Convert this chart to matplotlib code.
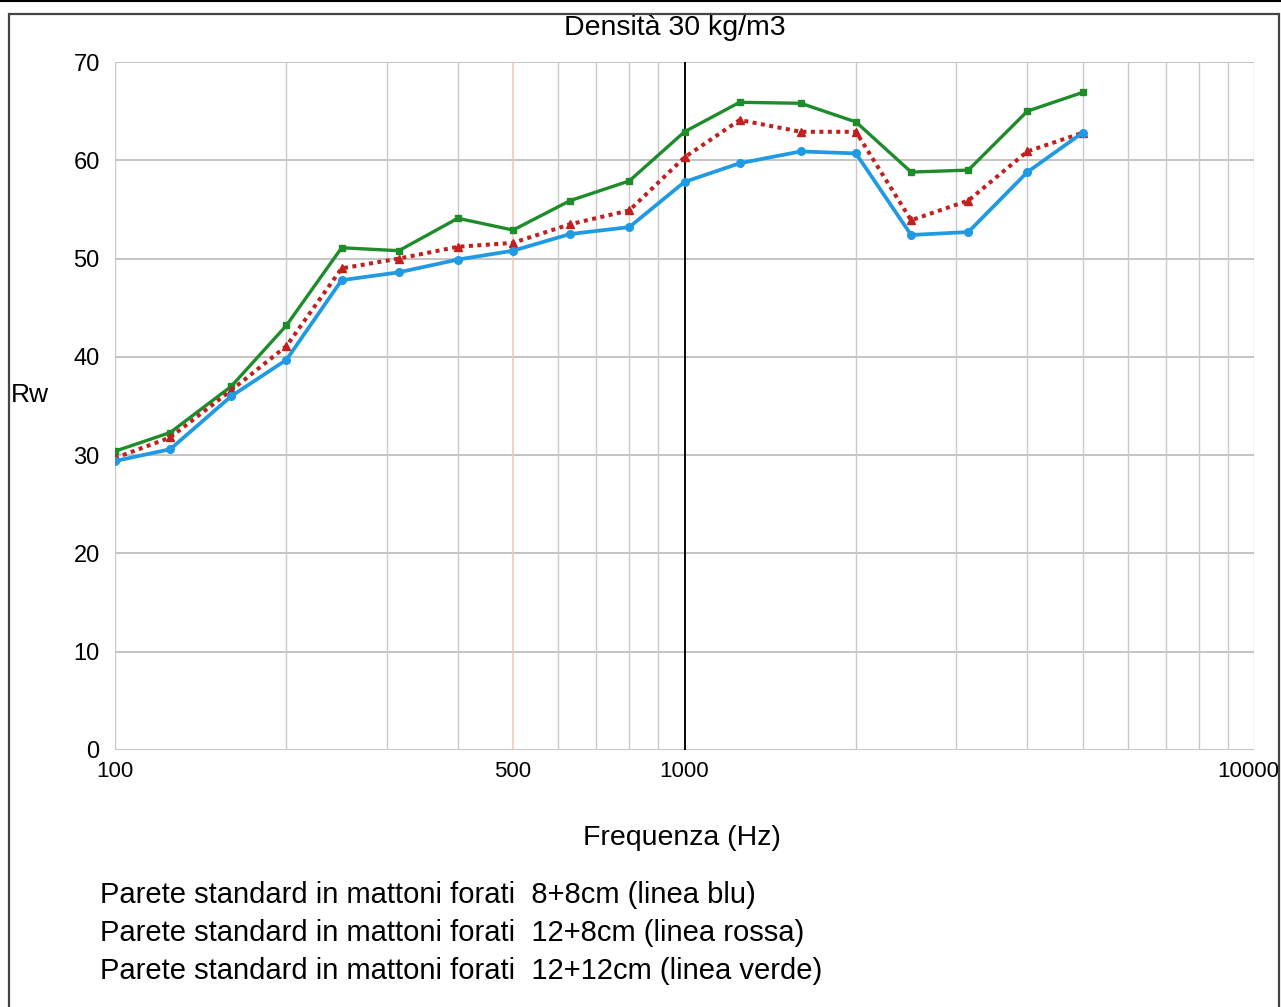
import numpy as np
import matplotlib
matplotlib.use('Agg')
import matplotlib.pyplot as plt
import matplotlib.transforms as mtransforms
from matplotlib.patches import Rectangle
from matplotlib.lines import Line2D

plt.rcParams['font.family'] = ['Liberation Sans', 'DejaVu Sans']

freqs = [100, 125, 160, 200, 250, 315, 400, 500, 630, 800, 1000,
         1250, 1600, 2000, 2500, 3150, 4000, 5000]
blue = [29.4, 30.6, 36.0, 39.7, 47.8, 48.6, 49.9, 50.8, 52.5, 53.2, 57.8,
        59.7, 60.9, 60.7, 52.4, 52.7, 58.8, 62.8]
red = [29.7, 31.8, 36.6, 41.1, 49.0, 50.0, 51.2, 51.6, 53.5, 54.9, 60.3,
       64.1, 62.9, 62.9, 53.9, 55.9, 60.9, 62.8]
green = [30.4, 32.3, 37.0, 43.2, 51.1, 50.8, 54.1, 52.9, 55.9, 57.9, 62.9,
         65.9, 65.8, 63.9, 58.8, 59.0, 65.0, 66.9]

xticks = [100, 500, 1000, 10000]
yticks = [0, 10, 20, 30, 40, 50, 60, 70]
legend_lines = ['Parete standard in mattoni forati  8+8cm (linea blu)',
                'Parete standard in mattoni forati  12+8cm (linea rossa)',
                'Parete standard in mattoni forati  12+12cm (linea verde)']

W, H = 1281, 1007
fig = plt.figure(figsize=(W / 100, H / 100), dpi=100)
ax = fig.add_axes([115 / W, 1 - 750 / H, (1254 - 115) / W, (750 - 62) / H])

ax.set_xscale('log')
ax.set_xlim(100, 10000)
ax.set_ylim(0, 70)

# grid lines (vertical log grid, horizontal every 10)
for y in yticks:
    ax.axhline(y, color='#b4b4b4', lw=1.1, zorder=1)
for dec in [100, 1000]:
    for m in range(1, 11):
        f = dec * m
        if f == 500:
            ax.axvline(f, color='#f3c6b2', lw=1.1, zorder=1)
        elif f == 1000:
            ax.axvline(f, color='black', lw=1.1, zorder=1)
        else:
            ax.axvline(f, color='#cacaca', lw=1.0, zorder=1)

ax.plot(freqs, green, color='#1e8c2a', lw=2.4, marker='s', ms=4.5, zorder=3)
ax.plot(freqs, red, color='#c0201e', lw=2.9, ls=(0, (1, 1.1)), marker='^', ms=6,
        zorder=4)
ax.plot(freqs, blue, color='#1f9ae3', lw=2.7, marker='o', ms=5.5, zorder=5)

for s in ax.spines.values():
    s.set_visible(False)

ax.set_xticks(xticks)
ax.set_xticklabels([str(x) for x in xticks])
ax.xaxis.set_minor_locator(matplotlib.ticker.NullLocator())
ax.set_yticks(yticks)
ax.tick_params(axis='x', length=0, labelsize=16, pad=8)
ax.tick_params(axis='y', length=0, labelsize=17, pad=11)

# last label sits against the right edge, nudge it in a bit
last = ax.get_xticklabels()[-1]
last.set_transform(last.get_transform() +
                   mtransforms.ScaledTranslation(-6 / 100, 0, fig.dpi_scale_trans))

fig.text(675 / W, 1 - 28 / H, 'Densità 30 kg/m3', ha='center', va='center', fontsize=20.5)
fig.text(30 / W, 1 - 395 / H, 'Rw', ha='center', va='center', fontsize=19)
fig.text(682 / W, 1 - 838 / H, 'Frequenza (Hz)', ha='center', va='center', fontsize=20.5)
for i, line in enumerate(legend_lines):
    fig.text(100 / W, 1 - (903 + 38 * i) / H, line, ha='left', va='baseline',
             fontsize=21)

# outer frame
fig.add_artist(Rectangle((9 / W, -0.01), (1279 - 9) / W, 1.01 - 14 / H,
                         transform=fig.transFigure, fill=False,
                         edgecolor='#444444', lw=1.6))
fig.add_artist(Line2D([0, 1], [1 - 0.8 / H, 1 - 0.8 / H], transform=fig.transFigure,
                      color='black', lw=1.5))

fig.savefig('out.png', dpi=100)
